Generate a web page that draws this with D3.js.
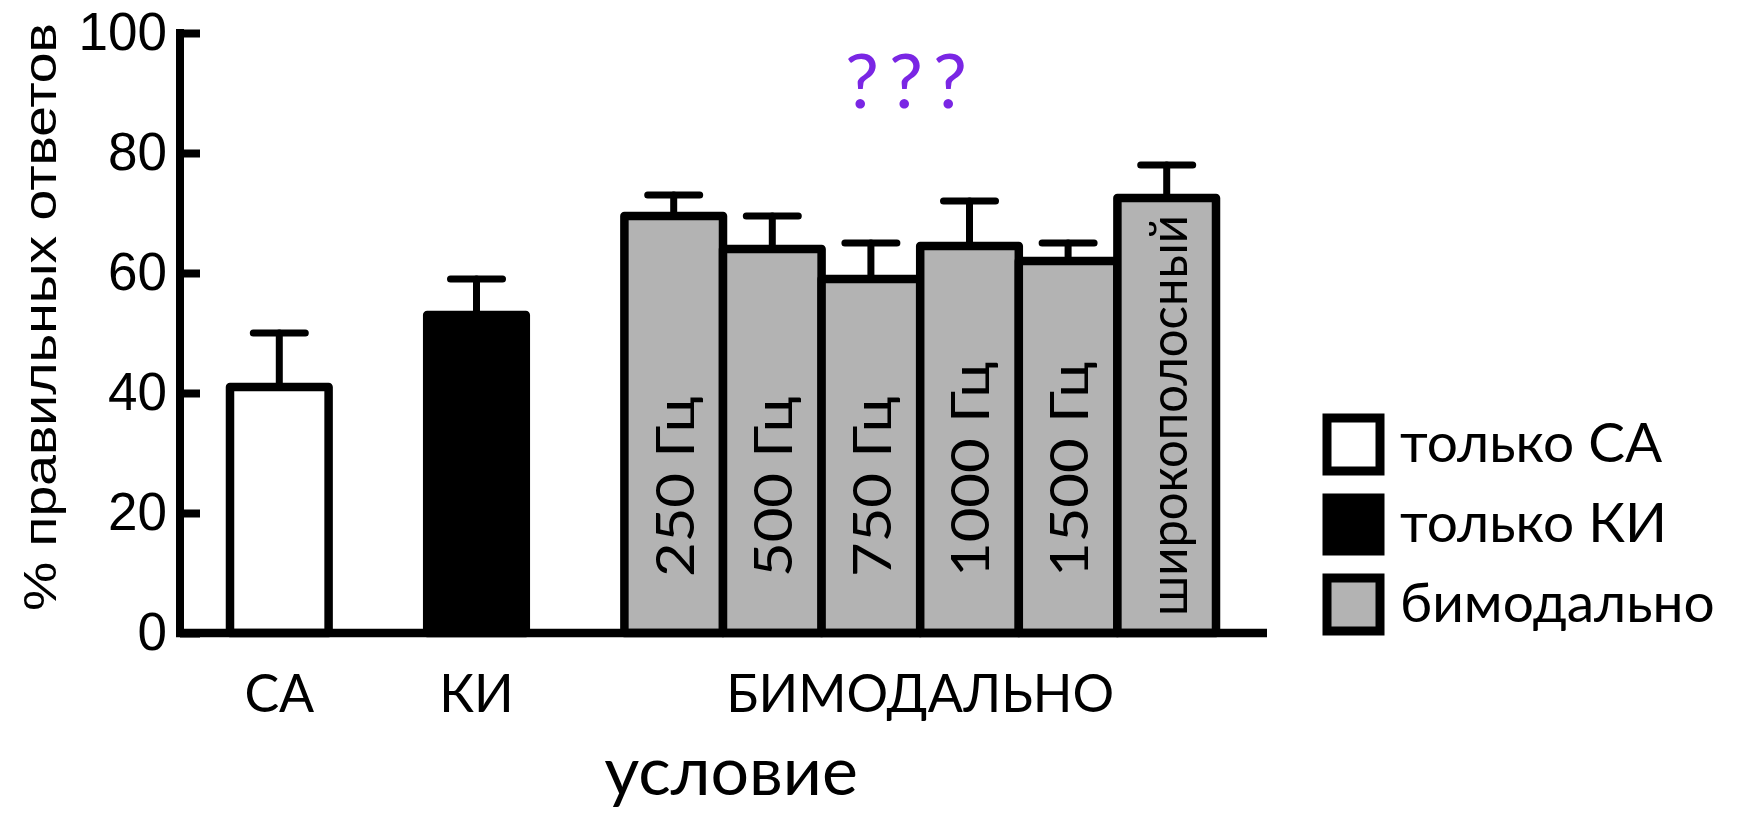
<!DOCTYPE html>
<html lang="ru">
<head>
<meta charset="utf-8">
<title>% правильных ответов по условиям</title>
<script src="https://cdn.jsdelivr.net/npm/d3@7"></script>
<style>
  html, body { margin: 0; padding: 0; background: #ffffff; }
  svg { display: block; }
</style>
</head>
<body>
<svg id="chart" width="1750" height="813"></svg>
<script>
// Bars: one per condition, placed in slots (gaps separate the three groups)
const categories = ["СА", "КИ", "250 Гц", "500 Гц", "750 Гц", "1000 Гц", "1500 Гц", "широкополосный"];
const slots      = [0, 2, 4, 5, 6, 7, 8, 9];
const means      = [41, 53, 69.5, 64, 59, 64.5, 62, 72.5];
const upperErr   = [50, 59, 73, 69.5, 65, 72, 65, 78];
const groupOf    = [0, 1, 2, 2, 2, 2, 2, 2];

// Groups: legend names, axis names, fills
const legendLabels = ["только СА", "только КИ", "бимодально"];
const groupAxisLabels = ["СА", "КИ", "БИМОДАЛЬНО"];
const groupFills = ["#ffffff", "#000000", "#b3b3b3"];

const yTicks = [0, 20, 40, 60, 80, 100];
const yTitle = "% правильных ответов";
const xTitle = "условие";
const annotation = "???";

const svg = d3.select("#chart");
const textFont = "Lato, 'Open Sans', sans-serif";
const numFont = "'Liberation Sans', Arial, sans-serif";

const y = d3.scaleLinear().domain([0, 100]).range([633, 33]);
const x = d3.scaleBand().domain(d3.range(10)).range([230, 1216]).paddingInner(0).paddingOuter(0);
const bw = x.bandwidth();

const bars = categories.map((c, i) => ({
  name: c, slot: slots[i], mean: means[i], err: upperErr[i], group: groupOf[i]
}));

// Error bars (drawn first; bar outline covers the stem foot)
const eb = svg.append("g").attr("stroke", "#000").attr("stroke-width", 7).attr("stroke-linecap", "round");
eb.selectAll("line.stem").data(bars).join("line")
  .attr("class", "stem")
  .attr("x1", d => x(d.slot) + bw / 2).attr("x2", d => x(d.slot) + bw / 2)
  .attr("y1", d => y(d.mean)).attr("y2", d => y(d.err));
eb.selectAll("line.cap").data(bars).join("line")
  .attr("class", "cap")
  .attr("x1", d => x(d.slot) + bw / 2 - 26).attr("x2", d => x(d.slot) + bw / 2 + 26)
  .attr("y1", d => y(d.err)).attr("y2", d => y(d.err));

// Bars
svg.append("g").selectAll("rect").data(bars).join("rect")
  .attr("x", d => x(d.slot)).attr("width", bw)
  .attr("y", d => y(d.mean)).attr("height", d => y(0) - y(d.mean))
  .attr("fill", d => groupFills[d.group])
  .attr("stroke", "#000").attr("stroke-width", 8.5).attr("stroke-linejoin", "round");

// Rotated condition labels inside the bimodal bars
const stretch = 1.15;
const inBar = svg.append("g");
bars.filter(d => d.group === 2).forEach(d => {
  const cx = x(d.slot) + bw / 2;
  const t = inBar.append("text")
    .attr("font-family", textFont).attr("font-size", 52)
    .attr("fill", "#000").attr("text-anchor", "start")
    .attr("dominant-baseline", "central")
    .text(d.name);
  const len = t.node().getComputedTextLength() * stretch;
  const topLimit = y(d.mean) + 17;
  const lowLimit = y(0) - 17;
  let start = Math.max(y(0) - 56, Math.min(lowLimit, topLimit + len));
  if (start - len >= topLimit) {
    t.attr("transform", `translate(${cx},${start}) rotate(-90) scale(${stretch},1)`);
  } else {
    // long label: fill the whole free height of the bar
    t.attr("textLength", lowLimit - topLimit).attr("lengthAdjust", "spacingAndGlyphs")
     .attr("transform", `translate(${cx},${lowLimit}) rotate(-90)`);
  }
});

// Y axis with inward ticks
const yAxis = d3.axisLeft(y).tickValues(yTicks).tickSizeInner(-20).tickSizeOuter(0).tickPadding(13);
const ya = svg.append("g").attr("transform", "translate(180,0)").call(yAxis);
ya.select(".domain").attr("stroke", "#000").attr("stroke-width", 8).attr("d", `M0,${y(0) + 4}V${y(100) - 4}`);
ya.selectAll(".tick line").attr("stroke", "#000").attr("stroke-width", 8);
ya.selectAll(".tick text").attr("font-family", numFont).attr("font-size", 53).attr("fill", "#000");

// X baseline
svg.append("line")
  .attr("x1", 176).attr("x2", 1267).attr("y1", y(0)).attr("y2", y(0))
  .attr("stroke", "#000").attr("stroke-width", 8.5);

// Group labels under the axis
const groupCenters = groupAxisLabels.map((g, gi) => {
  const s = bars.filter(d => d.group === gi).map(d => d.slot);
  return (x(d3.min(s)) + x(d3.max(s)) + bw) / 2;
});
svg.append("g").selectAll("text").data(groupAxisLabels).join("text")
  .attr("x", (d, i) => groupCenters[i]).attr("y", 712)
  .attr("text-anchor", "middle")
  .attr("font-family", textFont).attr("font-size", 52).attr("fill", "#000")
  .text(d => d);

// Axis titles
svg.append("text")
  .attr("transform", `translate(56,317) rotate(-90)`)
  .attr("text-anchor", "middle")
  .attr("font-family", numFont).attr("font-size", 47).attr("fill", "#000")
  .attr("textLength", 588).attr("lengthAdjust", "spacingAndGlyphs")
  .text(yTitle);

svg.append("text")
  .attr("x", 731).attr("y", 795).attr("text-anchor", "middle")
  .attr("font-family", textFont).attr("font-size", 68).attr("fill", "#000")
  .text(xTitle);

// Annotation above the bimodal group
svg.append("text")
  .attr("x", 906).attr("y", 108).attr("text-anchor", "middle")
  .attr("font-family", textFont).attr("font-size", 76).attr("fill", "#7a26e4")
  .attr("textLength", 122).attr("lengthAdjust", "spacing")
  .text(annotation);

// Legend
const lg = svg.append("g").attr("transform", "translate(1327,418)");
const items = lg.selectAll("g").data(legendLabels).join("g")
  .attr("transform", (d, i) => `translate(0,${i * 80})`);
items.append("rect")
  .attr("width", 53).attr("height", 53)
  .attr("fill", (d, i) => groupFills[i])
  .attr("stroke", "#000").attr("stroke-width", 9);
items.append("text")
  .attr("x", 73).attr("y", 44)
  .attr("font-family", textFont).attr("font-size", 55).attr("fill", "#000")
  .text(d => d);
</script>
</body>
</html>
